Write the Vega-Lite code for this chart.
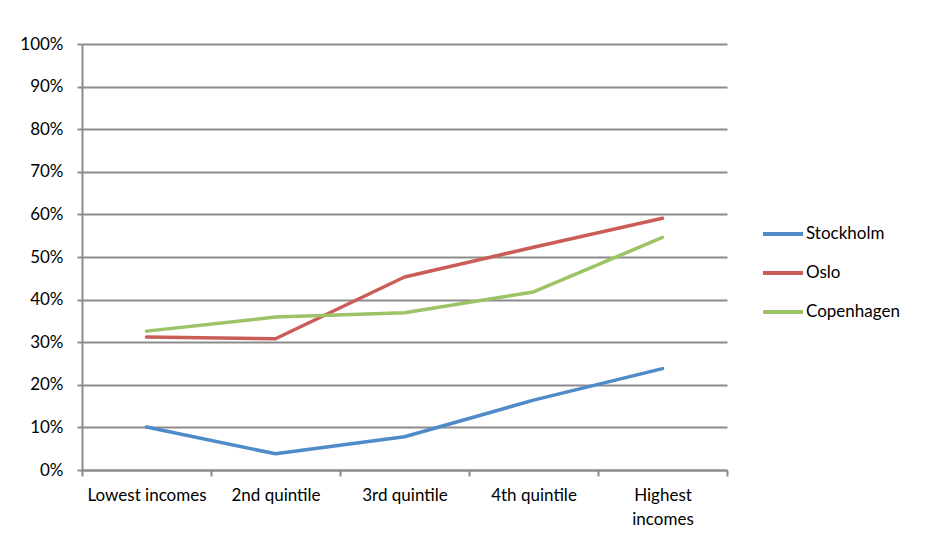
{
  "$schema": "https://vega.github.io/schema/vega-lite/v6.json",
  "autosize": {"type": "none"},
  "padding": {"left": 82, "top": 44, "right": 207, "bottom": 72},
  "width": 645,
  "height": 426,
  "background": "white",
  "config": {
    "view": {"stroke": null},
    "font": "Lato",
    "axis": {
      "labelFont": "Lato",
      "labelFontSize": 17,
      "labelColor": "#000000",
      "domainColor": "#8c8c8c",
      "domainWidth": 2,
      "tickColor": "#8c8c8c",
      "tickWidth": 2,
      "tickSize": 6,
      "gridColor": "#8c8c8c",
      "gridWidth": 2,
      "title": null
    }
  },
  "data": {
    "values": [
      {"quintile": "Lowest incomes", "city": "Stockholm", "share": 0.101},
      {"quintile": "2nd quintile", "city": "Stockholm", "share": 0.038},
      {"quintile": "3rd quintile", "city": "Stockholm", "share": 0.078},
      {"quintile": "4th quintile", "city": "Stockholm", "share": 0.164},
      {"quintile": "Highest incomes", "city": "Stockholm", "share": 0.238},
      {"quintile": "Lowest incomes", "city": "Oslo", "share": 0.312},
      {"quintile": "2nd quintile", "city": "Oslo", "share": 0.308},
      {"quintile": "3rd quintile", "city": "Oslo", "share": 0.453},
      {"quintile": "4th quintile", "city": "Oslo", "share": 0.523},
      {"quintile": "Highest incomes", "city": "Oslo", "share": 0.591},
      {"quintile": "Lowest incomes", "city": "Copenhagen", "share": 0.326},
      {"quintile": "2nd quintile", "city": "Copenhagen", "share": 0.359},
      {"quintile": "3rd quintile", "city": "Copenhagen", "share": 0.369},
      {"quintile": "4th quintile", "city": "Copenhagen", "share": 0.418},
      {"quintile": "Highest incomes", "city": "Copenhagen", "share": 0.546}
    ]
  },
  "mark": {"type": "line", "strokeWidth": 3.5, "strokeCap": "round", "strokeJoin": "round"},
  "encoding": {
    "x": {
      "field": "quintile",
      "type": "nominal",
      "sort": ["Lowest incomes", "2nd quintile", "3rd quintile", "4th quintile", "Highest incomes"],
      "scale": {"paddingInner": 0, "paddingOuter": 0},
      "axis": {
        "labelAngle": 0,
        "tickBand": "extent",
        "grid": false,
        "labelPadding": 11,
        "labelLimit": 200,
        "labelLineHeight": 24,
        "labelBaseline": "top",
        "labelExpr": "datum.label == 'Highest incomes' ? ['Highest', 'incomes'] : datum.label"
      }
    },
    "y": {
      "field": "share",
      "type": "quantitative",
      "scale": {"domain": [0, 1]},
      "axis": {
        "values": [0, 0.1, 0.2, 0.3, 0.4, 0.5, 0.6, 0.7, 0.8, 0.9, 1],
        "format": ".0%",
        "grid": true,
        "tickSize": 5,
        "labelPadding": 14
      }
    },
    "color": {
      "field": "city",
      "type": "nominal",
      "sort": ["Stockholm", "Oslo", "Copenhagen"],
      "scale": {"domain": ["Stockholm", "Oslo", "Copenhagen"], "range": ["#4f8ac9", "#cb5d59", "#9cc365"]},
      "legend": {
        "title": null,
        "orient": "none",
        "legendX": 679,
        "legendY": 168,
        "symbolType": "stroke",
        "symbolSize": 1600,
        "symbolStrokeWidth": 4,
        "labelFontSize": 17,
        "labelFont": "Lato",
        "labelColor": "#000000",
        "labelOffset": 1,
        "rowPadding": 9
      }
    }
  }
}
